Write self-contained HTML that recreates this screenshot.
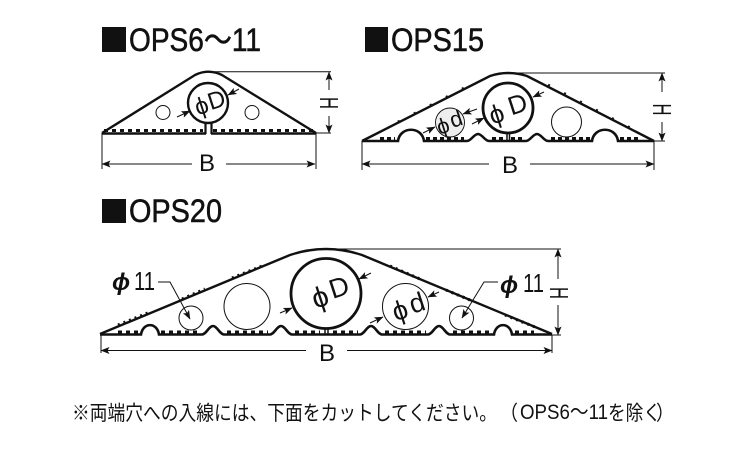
<!DOCTYPE html>
<html><head><meta charset="utf-8"><style>
html,body{margin:0;padding:0;background:#fff}
svg{display:block}
text{font-family:"Liberation Sans","Noto Sans CJK JP",sans-serif;fill:#111}
.t{stroke:#111;stroke-width:.55}
</style></head><body>
<svg width="750" height="450" viewBox="0 0 750 450" xmlns="http://www.w3.org/2000/svg">
<defs>
<marker id="a" markerWidth="9" markerHeight="7" refX="8.5" refY="3.5" orient="auto" markerUnits="userSpaceOnUse"><path d="M0 0L9 3.500L0 7L2 3.500Z" fill="#111"/></marker>
</defs>
<!-- titles -->
<rect x="102" y="27" width="24" height="25" fill="#111"/>
<text class="t" x="129" y="51" font-size="32" textLength="132" lengthAdjust="spacingAndGlyphs">OPS6〜11</text>
<rect x="365" y="27" width="23" height="25" fill="#111"/>
<text class="t" x="391" y="51" font-size="32" textLength="93" lengthAdjust="spacingAndGlyphs">OPS15</text>
<rect x="102" y="199" width="24" height="24" fill="#111"/>
<text class="t" x="129" y="222" font-size="32" textLength="93" lengthAdjust="spacingAndGlyphs">OPS20</text>

<!-- OPS6-11 -->
<g fill="none" stroke="#111">
<path d="M102 133L195 75Q202 71.700 208 71.700Q215 71.700 222 75L316 133" stroke-width="2.400"/>
<path d="M102 133.500H206M211 133.500H316" stroke-width="2.600"/>
<path d="M104 130.500H203M213 130.500H314" stroke-width="3" stroke-dasharray="4 4"/>
<path d="M205.500 134V120M211.500 134V120" stroke-width="2.200"/>
<circle cx="208" cy="103" r="20" stroke-width="2.400" fill="#fff"/>
<circle cx="163" cy="112.500" r="7" stroke-width="1"/>
<circle cx="252" cy="112.500" r="7" stroke-width="1"/>
<path d="M205 71.700H331M316 133H331M102 133V169M316 133V169" stroke-width="1"/>
<path d="M192 164H102" stroke-width="1" marker-end="url(#a)"/>
<path d="M226 164H315" stroke-width="1" marker-end="url(#a)"/>
<path d="M329 90V72" stroke-width="1" marker-end="url(#a)"/>
<path d="M329 116V133" stroke-width="1" marker-end="url(#a)"/>
<path d="M177 117L190 111" stroke-width="1" marker-end="url(#a)"/>
<path d="M239 89L228 95" stroke-width="1" marker-end="url(#a)"/>
</g>
<text transform="translate(201.500 106) rotate(-18)" y="8" font-size="24" text-anchor="middle">ϕ</text>
<text transform="translate(216.500 100) rotate(-18)" y="8" font-size="24" text-anchor="middle">D</text>
<text x="207" y="171" font-size="24" text-anchor="middle">B</text>
<text transform="translate(320 103) rotate(90)" font-size="26" text-anchor="middle" textLength="12" lengthAdjust="spacingAndGlyphs">H</text>

<!-- OPS15 -->
<g fill="none" stroke="#111">
<path d="M362 141L490 76Q499 73 508 73Q518 73 527 76L654 141" stroke-width="2.400"/>
<path d="M362 141H398C400 126 422 126 424 141H467C471 141 474 134 478 134C482 134 485 141 489 141H526C530 141 533 134 537 134C541 134 544 141 548 141H592C594 126 616 126 618 141H654" stroke-width="2.600"/>
<path d="M380 138.500H395M426 138.500H464M492 138.500H505M511 138.500H524M551 138.500H590M620 138.500H640" stroke-width="3" stroke-dasharray="4 3"/>
<path d="M507 141V131M509.500 141V131" stroke-width="1.500"/>
<circle cx="508" cy="108" r="25" stroke-width="2.800" fill="#fff"/>
<circle cx="450" cy="122.500" r="14.500" stroke-width="0.900" fill="#eeeeee"/>
<circle cx="566.500" cy="122" r="15" stroke-width="1" fill="#fff"/>
<path d="M510 73H665M654 141H665M362 141V170M654 141V170" stroke-width="1"/>
<path d="M489 164H362" stroke-width="1" marker-end="url(#a)"/>
<path d="M530 164H654" stroke-width="1" marker-end="url(#a)"/>
<path d="M662 92V73" stroke-width="1" marker-end="url(#a)"/>
<path d="M662 122V141" stroke-width="1" marker-end="url(#a)"/>
<path d="M423 133L435 127" stroke-width="1" marker-end="url(#a)"/>
<path d="M477 109L463 114" stroke-width="1" marker-end="url(#a)"/>
<path d="M472 124L484 118" stroke-width="1" marker-end="url(#a)"/>
<path d="M544 92L533 97" stroke-width="1" marker-end="url(#a)"/>
<path d="M398 122L470 85M548 85L640 133" stroke-width="2.800" stroke-dasharray="2 16"/>
</g>
<text transform="translate(496.500 114) rotate(-18)" y="9" font-size="26" text-anchor="middle">ϕ</text>
<text transform="translate(517.500 104) rotate(-18)" y="9" font-size="26" text-anchor="middle">D</text>
<text transform="translate(443 126) rotate(-18)" y="7.500" font-size="22" text-anchor="middle">ϕ</text>
<text transform="translate(456 119) rotate(-18)" y="7.500" font-size="22" text-anchor="middle">d</text>
<text x="510" y="173" font-size="24" text-anchor="middle">B</text>
<text transform="translate(653 109.500) rotate(90)" font-size="26" text-anchor="middle" textLength="12" lengthAdjust="spacingAndGlyphs">H</text>

<!-- OPS20 -->
<g fill="none" stroke="#111">
<path d="M100 334L290 255Q308 249 326 249Q344 249 362 255L552 334" stroke-width="2.400"/>
<path d="M100 334.500H141C143 322 157 322 159 334.500H202C206 334.500 209 326 213 326C217 326 220 334.500 224 334.500H270C274 334.500 277 326 281 326C285 326 288 334.500 292 334.500H360C364 334.500 367 326 371 326C375 326 378 334.500 382 334.500H428C432 334.500 435 326 439 326C443 326 446 334.500 450 334.500H494C496 322 510 322 512 334.500H552" stroke-width="2.600"/>
<path d="M118 332H139M161 332H200M227 332H268M295 332H320M333 332H358M385 332H426M453 332H492M515 332H534" stroke-width="3" stroke-dasharray="4 4"/>
<path d="M325 334V327M328 334V327" stroke-width="1.500"/>
<circle cx="326" cy="293.500" r="35" stroke-width="2.800" fill="#fff"/>
<circle cx="247" cy="306.500" r="23" stroke-width="1"/>
<circle cx="191" cy="318" r="12" stroke-width="1"/>
<circle cx="405.500" cy="306.500" r="23" stroke-width="1"/>
<circle cx="461.500" cy="318" r="12" stroke-width="1"/>
<path d="M330 249H561M552 335H561M101 334V353M552 335V353" stroke-width="1"/>
<path d="M306 350.500H101" stroke-width="1" marker-end="url(#a)"/>
<path d="M347 350.500H552" stroke-width="1" marker-end="url(#a)"/>
<path d="M558 279V249" stroke-width="1" marker-end="url(#a)"/>
<path d="M558 305V335" stroke-width="1" marker-end="url(#a)"/>
<path d="M158 282H170L190 319" stroke-width="1" marker-end="url(#a)"/>
<path d="M498 282H484L462 318" stroke-width="1" marker-end="url(#a)"/>
<path d="M280 313L292 308" stroke-width="1" marker-end="url(#a)"/>
<path d="M371 273L359 279" stroke-width="1" marker-end="url(#a)"/>
<path d="M370 323L383 317" stroke-width="1" marker-end="url(#a)"/>
<path d="M439 292L428 297" stroke-width="1" marker-end="url(#a)"/>
<path d="M118 325L150 312M182 299L205 289M232 278L262 266M390 266L420 279M446 290L470 300M505 315L535 327" stroke-width="3" stroke-dasharray="2 4"/>
</g>
<text transform="translate(320 297) rotate(-18)" y="10" font-size="29" text-anchor="middle">ϕ</text>
<text transform="translate(339 287) rotate(-18)" y="9.500" font-size="27" text-anchor="middle">D</text>
<text transform="translate(400 310.500) rotate(-18)" y="9" font-size="27" text-anchor="middle">ϕ</text>
<text transform="translate(417 303) rotate(-18)" y="9" font-size="27" text-anchor="middle">d</text>
<text x="112" y="290" font-size="24" font-weight="bold" font-style="italic">ϕ</text>
<text x="134" y="290" font-size="26" textLength="21" lengthAdjust="spacingAndGlyphs">11</text>
<text x="500" y="293" font-size="24" font-weight="bold" font-style="italic">ϕ</text>
<text x="523" y="292" font-size="26" textLength="21" lengthAdjust="spacingAndGlyphs">11</text>
<text x="327" y="361" font-size="24" text-anchor="middle">B</text>
<text transform="translate(550 293) rotate(90)" font-size="26" text-anchor="middle" textLength="12" lengthAdjust="spacingAndGlyphs">H</text>

<!-- footer -->
<text x="72" y="420" font-size="20.500" textLength="425" lengthAdjust="spacingAndGlyphs">※両端穴への入線には、下面をカットしてください。</text>
<text x="500" y="420" font-size="20.500" textLength="18" lengthAdjust="spacingAndGlyphs">（</text>
<text x="520" y="419" font-size="21" textLength="88" lengthAdjust="spacingAndGlyphs">OPS6〜11</text>
<text x="608" y="420" font-size="20.500" textLength="53" lengthAdjust="spacingAndGlyphs">を除く</text>
<text x="656" y="420" font-size="20.500" textLength="18" lengthAdjust="spacingAndGlyphs">）</text>
</svg>
</body></html>
